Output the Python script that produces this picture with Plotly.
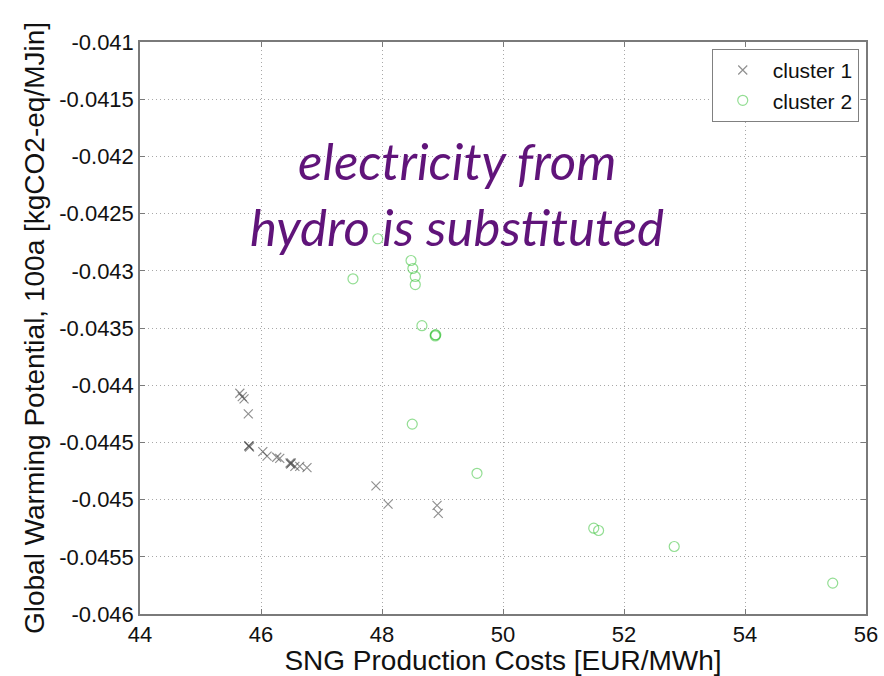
import plotly.graph_objects as go

# Cluster 1: SNG production cost vs. GWP
c1_cost = [45.65, 45.69, 45.72, 45.79, 45.80, 45.80, 45.81, 46.03, 46.10, 46.26, 46.31,
           46.48, 46.49, 46.50, 46.56, 46.64, 46.76, 47.90, 48.10, 48.91, 48.93]
c1_gwp = [-0.04407, -0.04410, -0.04412, -0.04425, -0.04453, -0.04453, -0.04454, -0.04458,
          -0.04462, -0.04463, -0.04464, -0.04468, -0.04469, -0.04468, -0.04471, -0.04471,
          -0.04472, -0.04488, -0.04504, -0.04505, -0.04512]

# Cluster 2
c2_cost = [47.93, 47.52, 48.48, 48.51, 48.55, 48.55, 48.66, 48.88, 48.89, 48.88,
           48.50, 49.57, 51.50, 51.58, 52.83, 55.45]
c2_gwp = [-0.04272, -0.04307, -0.04291, -0.04298, -0.04305, -0.04312, -0.04348, -0.04356,
          -0.04356, -0.04357, -0.04434, -0.04477, -0.04525, -0.04527, -0.04541, -0.04573]

x_ticks = [44, 46, 48, 50, 52, 54, 56]
y_ticks = [-0.041, -0.0415, -0.042, -0.0425, -0.043, -0.0435, -0.044, -0.0445,
           -0.045, -0.0455, -0.046]
y_tick_text = ["-0.041", "-0.0415", "-0.042", "-0.0425", "-0.043", "-0.0435", "-0.044",
               "-0.0445", "-0.045", "-0.0455", "-0.046"]

note_lines = ["electricity from", "hydro is substituted"]

fig = go.Figure()
fig.add_trace(go.Scatter(
    x=c1_cost, y=c1_gwp, mode="markers", name="cluster 1",
    marker=dict(symbol="x-thin-open", size=9, color="rgba(70,70,70,0.6)",
                line=dict(color="rgba(70,70,70,0.6)", width=1.2)),
))
fig.add_trace(go.Scatter(
    x=c2_cost, y=c2_gwp, mode="markers", name="cluster 2",
    marker=dict(symbol="circle-open", size=10, color="rgba(40,190,40,0.5)",
                line=dict(color="rgba(40,190,40,0.5)", width=1.2)),
))

axis_common = dict(
    showline=True, linecolor="#7a7a7a", linewidth=1.5, mirror="ticks",
    ticks="inside", ticklen=5, tickcolor="#7a7a7a",
    showgrid=True, gridcolor="#a8a8a8", griddash="1px,3px", gridwidth=1,
    zeroline=False, automargin=False,
    tickfont=dict(family="Liberation Sans, Arial", size=22, color="#111"),
)

fig.update_xaxes(
    range=[44, 56], tickvals=x_ticks,
    title=dict(text="SNG Production Costs [EUR/MWh]", standoff=8,
               font=dict(family="Liberation Sans, Arial", size=28, color="#111")),
    **axis_common,
)
fig.update_yaxes(
    range=[-0.046, -0.041], tickvals=y_ticks, ticktext=y_tick_text,
    title=dict(text="Global Warming Potential, 100a [kgCO2-eq/MJin]", standoff=6,
               font=dict(family="Liberation Sans, Arial", size=28, color="#111")),
    **axis_common,
)

# Two-line note placed inside the plot area
for line_text, y_pos in zip(note_lines, [0.792, 0.678]):
    fig.add_annotation(
        xref="paper", yref="paper", x=0.4366, y=y_pos, xanchor="center", yanchor="middle",
        text=line_text, showarrow=False,
        font=dict(family="Lato", size=51, color="rgb(96,20,122)", style="italic"),
    )

fig.update_layout(
    width=884, height=676,
    margin=dict(l=140, r=18, t=42, b=62),
    paper_bgcolor="white", plot_bgcolor="white",
    showlegend=True,
    legend=dict(
        x=0.99, y=0.988, xanchor="right", yanchor="top",
        bordercolor="#808080", borderwidth=1, bgcolor="white",
        font=dict(family="Liberation Sans, Arial", size=21, color="#111"),
        tracegroupgap=0, itemwidth=50,
    ),
)

fig.write_html("out.html")
